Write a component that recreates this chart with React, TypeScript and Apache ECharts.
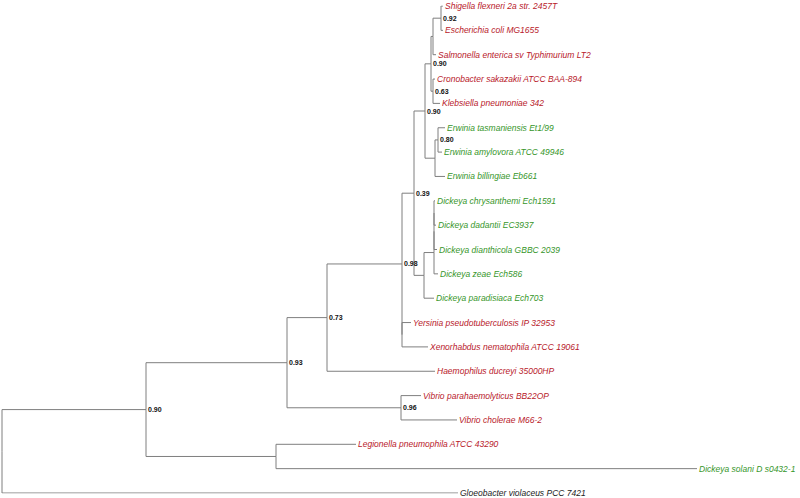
import React, { useEffect, useRef } from "react";
import * as echarts from "echarts";

// Leaves, top to bottom
const leafNames = [
  "Shigella flexneri 2a str. 2457T",
  "Escherichia coli MG1655",
  "Salmonella enterica sv Typhimurium LT2",
  "Cronobacter sakazakii ATCC BAA-894",
  "Klebsiella pneumoniae 342",
  "Erwinia tasmaniensis Et1/99",
  "Erwinia amylovora ATCC 49946",
  "Erwinia billingiae Eb661",
  "Dickeya chrysanthemi Ech1591",
  "Dickeya dadantii EC3937",
  "Dickeya dianthicola GBBC 2039",
  "Dickeya zeae Ech586",
  "Dickeya paradisiaca Ech703",
  "Yersinia pseudotuberculosis IP 32953",
  "Xenorhabdus nematophila ATCC 19061",
  "Haemophilus ducreyi 35000HP",
  "Vibrio parahaemolyticus BB22OP",
  "Vibrio cholerae M66-2",
  "Legionella pneumophila ATCC 43290",
  "Dickeya solani D s0432-1",
  "Gloeobacter violaceus PCC 7421",
];
const leafGroups = ["r", "r", "r", "r", "r", "g", "g", "g", "g", "g", "g", "g", "g", "r", "r", "r", "r", "r", "r", "g", "k"];
// distance from root (arbitrary units)
const leafDepths = [441, 441, 434, 433, 438, 443, 440, 443, 433, 434, 435, 436, 432, 409, 426, 433, 419, 455, 354, 695, 456];

// Internal nodes
const nodeIds = ["root", "N90a", "N93", "N73", "N98", "NYX", "N39", "D", "B", "X", "A", "C", "E", "F", "G", "H", "H1", "H2", "Vib", "Leg"];
const nodeDepths = [0, 144, 285, 325, 400, 400, 412, 423, 429, 431, 439, 431, 433, 436, 422, 432, 432, 432, 399, 274];
const nodeSupport = ["", "0.90", "0.93", "0.73", "0.98", "", "0.39", "0.90", "0.90", "", "0.92", "0.63", "", "0.80", "", "", "", "", "0.96", ""];
const nodeChildren: (string | number)[][] = [
  ["N90a", 20],
  ["N93", "Leg"],
  ["N73", "Vib"],
  ["N98", 15],
  ["N39", "NYX"],
  [13, 14],
  ["D", "G"],
  ["B", "E"],
  ["X", "C"],
  ["A", 2],
  [0, 1],
  [3, 4],
  ["F", 7],
  [5, 6],
  ["H", 12],
  ["H1", 11],
  ["H2", 10],
  [8, 9],
  [16, 17],
  [18, 19],
];

const groupColors: Record<string, string> = { r: "#b8192a", g: "#36962a", k: "#222222" };
const FONT = "'Liberation Sans', Arial, Helvetica, sans-serif";

function buildTree() {
  const yOf: Record<string, number> = {};
  const xOf: Record<string, number> = {};
  const key = (c: string | number) => (typeof c === "number" ? "L" + c : c);
  leafNames.forEach((_, i) => {
    yOf["L" + i] = i;
    xOf["L" + i] = leafDepths[i];
  });
  nodeIds.forEach((id, i) => (xOf[id] = nodeDepths[i]));
  const idx: Record<string, number> = {};
  nodeIds.forEach((id, i) => (idx[id] = i));
  const getY = (k: string): number => {
    if (yOf[k] !== undefined) return yOf[k];
    const ch = nodeChildren[idx[k]].map(key);
    const ys = ch.map(getY);
    const y = (ys[0] + ys[ys.length - 1]) / 2;
    yOf[k] = y;
    return y;
  };
  nodeIds.forEach((id) => getY(id));
  const edges: any[] = [];
  nodeIds.forEach((id, i) => {
    nodeChildren[i].forEach((c) => {
      const k = key(c);
      edges.push({
        coords: [
          [xOf[id], yOf[id]],
          [xOf[id], yOf[k]],
          [xOf[k], yOf[k]],
        ],
      });
    });
  });
  return { yOf, xOf, edges };
}

export default function App() {
  const ref = useRef<HTMLDivElement>(null);
  useEffect(() => {
    if (!ref.current) return;
    const chart = echarts.init(ref.current, undefined, { renderer: "svg" });
    const { yOf, xOf, edges } = buildTree();
    const leafData = leafNames.map((n, i) => ({
      name: n,
      value: [xOf["L" + i], yOf["L" + i]],
      itemStyle: { color: groupColors[leafGroups[i]], opacity: 1 },
      label: { color: groupColors[leafGroups[i]] },
    }));
    const supportData = nodeIds
      .map((id, i) => ({
        name: nodeSupport[i],
        value: [xOf[id], yOf[id]],
      }))
      .filter((d) => d.name !== "");
    chart.setOption({
      animation: false,
      backgroundColor: "#ffffff",
      grid: { left: 2, top: 6, width: 700, height: 487 },
      xAxis: { type: "value", min: 0, max: 700, show: false },
      yAxis: { type: "value", min: 0, max: 20, inverse: true, show: false },
      series: [
        {
          type: "lines",
          coordinateSystem: "cartesian2d",
          polyline: true,
          silent: true,
          lineStyle: { color: "#7f7f7f", width: 1, opacity: 1 },
          data: edges,
          z: 1,
        },
        {
          type: "scatter",
          symbolSize: 0,
          silent: true,
          itemStyle: { opacity: 1 },
          data: leafData,
          label: {
            show: true,
            position: "right",
            distance: 2,
            formatter: "{b}",
            fontSize: 8.5,
            fontStyle: "italic",
            fontFamily: FONT,
            textBorderWidth: 0,
          },
          z: 3,
        },
        {
          type: "scatter",
          symbolSize: 0,
          silent: true,
          color: "#111111",
          itemStyle: { opacity: 1, color: "#111111" },
          data: supportData,
          label: {
            show: true,
            position: "right",
            distance: 2,
            formatter: "{b}",
            fontSize: 7,
            fontWeight: "bold",
            color: "#111111",
            fontFamily: FONT,
            textBorderWidth: 0,
          },
          z: 4,
        },
      ],
    });
    return () => chart.dispose();
  }, []);
  return (
    <div
      ref={ref}
      style={{ position: "fixed", left: 0, top: 0, width: 800, height: 498, background: "#fff", opacity: 0.999 }}
    />
  );
}
